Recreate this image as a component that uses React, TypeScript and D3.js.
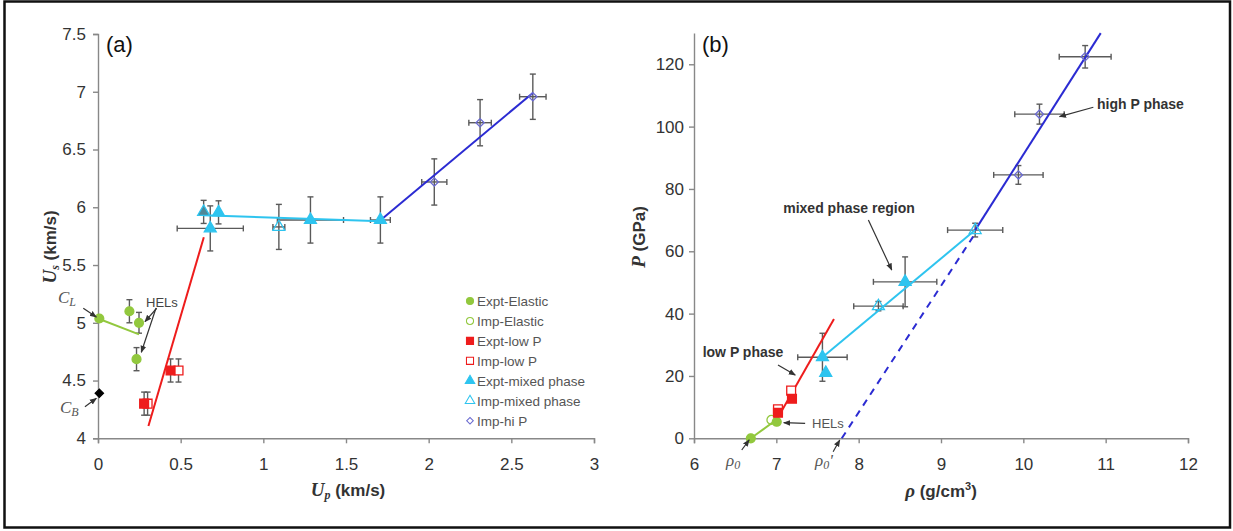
import React, { useEffect, useRef } from "react";
import * as d3 from "d3";

// ---- panel (a): Us vs Up ----
const aExptElastic = [
  { x: 0.008, y: 5.037 },
  { x: 0.19, y: 5.1, ey: 0.1 },
  { x: 0.248, y: 5.0, ey: 0.09 },
  { x: 0.233, y: 4.685, ey: 0.1 },
];
const aCB = [{ x: 0.008, y: 4.39 }];
const aExptLowP = [
  { x: 0.279, y: 4.3, ey: 0.1 },
  { x: 0.439, y: 4.587, ey: 0.1 },
];
const aImpLowP = [
  { x: 0.3, y: 4.3, ey: 0.1 },
  { x: 0.487, y: 4.587, ey: 0.1 },
];
const aExptMixed = [
  { x: 0.729, y: 5.956, ey: 0.1 },
  { x: 0.679, y: 5.817, ex: 0.2, ey: 0.195 },
  { x: 1.285, y: 5.89, ex: 0.2, ey: 0.2 },
  { x: 1.708, y: 5.89, ex: 0.06, ey: 0.2 },
];
const aImpMixed = [
  { x: 0.639, y: 5.96, ey: 0.1 },
  { x: 1.094, y: 5.83, ex: 0.036, ey: 0.195 },
];
const aImpHiP = [
  { x: 2.034, y: 6.219, ex: 0.076, ey: 0.2 },
  { x: 2.311, y: 6.732, ex: 0.068, ey: 0.2 },
  { x: 2.63, y: 6.957, ex: 0.08, ey: 0.196 },
];
const aFitElastic = [[0, 5.037], [0.248, 4.9]];
const aFitLowP = [[0.305, 4.107], [0.64, 5.74]];
const aFitMixed = [[0.637, 5.93], [1.712, 5.88]];
const aFitHiP = [[1.71, 5.89], [2.63, 6.99]];
const aTicksX = [0, 0.5, 1, 1.5, 2, 2.5, 3];
const aTicksY = [4, 4.5, 5, 5.5, 6, 6.5, 7, 7.5];
const legendItems = [
  "Expt-Elastic",
  "Imp-Elastic",
  "Expt-low P",
  "Imp-low P",
  "Expt-mixed phase",
  "Imp-mixed phase",
  "Imp-hi P",
];

// ---- panel (b): P vs rho ----
const bExptElastic = [
  { x: 6.69, y: 0 },
  { x: 7.005, y: 5.3 },
];
const bImpElastic = [{ x: 6.94, y: 5.9 }];
const bExptLowP = [
  { x: 7.02, y: 8.2 },
  { x: 7.19, y: 12.7 },
];
const bImpLowP = [
  { x: 7.02, y: 9.3 },
  { x: 7.18, y: 15.3 },
];
const bExptMixed = [
  { x: 7.56, y: 26, ex: 0.3, ey: 7.7 },
  { x: 7.6, y: 21 },
  { x: 8.564, y: 50.2, ex: 0.385, ey: 8 },
];
const bImpMixed = [
  { x: 8.24, y: 42.4, ex: 0.3, ey: 1.5 },
  { x: 9.415, y: 66.8, ex: 0.335, ey: 2.2 },
];
const bImpHiP = [
  { x: 9.94, y: 84.5, ex: 0.3, ey: 3 },
  { x: 10.196, y: 104, ex: 0.3, ey: 3.2 },
  { x: 10.751, y: 122.4, ex: 0.315, ey: 3.6 },
];
const bFitElastic = [[6.69, 0], [7.03, 6.5]];
const bFitLowP = [[6.98, 4.8], [7.7, 38.3]];
const bFitMixed = [[7.56, 26], [9.415, 66.8]];
const bFitHiP = [[9.415, 66.8], [10.94, 130]];
const bFitHiPExtrap = [[7.795, 0], [9.39, 64.7]];
const bTicksX = [6, 7, 8, 9, 10, 11, 12];
const bTicksY = [0, 20, 40, 60, 80, 100, 120];

const SANS = "Arial, 'Liberation Sans', sans-serif";
const SERIF = "'Times New Roman', 'Liberation Serif', serif";
const GREEN = "#92c83e";
const RED = "#ee1c1c";
const CYAN = "#2ec4ef";
const BLUE = "#2b2bd2";
const PURPLE = "#6b6bd0";
const ERR = "#5a5a5a";

const xA = d3.scaleLinear().domain([0, 3]).range([98, 594]);
const yA = d3.scaleLinear().domain([4, 7.5]).range([438.3, 34]);
const xB = d3.scaleLinear().domain([6, 12]).range([694, 1188]);
const yB = d3.scaleLinear().domain([0, 130]).range([438.3, 33.1]);

function Axis({ scale, orient, y0, x0, ticks, outer, pad }) {
  const ref = useRef(null);
  useEffect(() => {
    const ax = orient === "left" ? d3.axisLeft(scale) : d3.axisBottom(scale);
    ax.tickValues(ticks)
      .tickFormat((d) => String(d))
      .tickSize(5)
      .tickSizeOuter(outer)
      .tickPadding(pad);
    const g = d3.select(ref.current);
    g.call(ax);
    g.attr("font-family", SANS).attr("font-size", 17);
    g.select(".domain").attr("stroke", "#888").attr("stroke-width", 1.4);
    g.selectAll(".tick line").attr("stroke", "#888").attr("stroke-width", 1.4);
    g.selectAll(".tick text").attr("fill", "#333");
  }, []);
  const t = orient === "left" ? `translate(${x0},0)` : `translate(0,${y0})`;
  return <g ref={ref} transform={t} />;
}

function ErrorBars({ pts, x, y }) {
  return (
    <g stroke={ERR} strokeWidth={1.4} fill="none">
      {pts.map((p, i) => (
        <g key={i}>
          {p.ey ? (
            <>
              <line x1={x(p.x)} x2={x(p.x)} y1={y(p.y - p.ey)} y2={y(p.y + p.ey)} />
              <line x1={x(p.x) - 3} x2={x(p.x) + 3} y1={y(p.y - p.ey)} y2={y(p.y - p.ey)} />
              <line x1={x(p.x) - 3} x2={x(p.x) + 3} y1={y(p.y + p.ey)} y2={y(p.y + p.ey)} />
            </>
          ) : null}
          {p.ex ? (
            <>
              <line x1={x(p.x - p.ex)} x2={x(p.x + p.ex)} y1={y(p.y)} y2={y(p.y)} />
              <line x1={x(p.x - p.ex)} x2={x(p.x - p.ex)} y1={y(p.y) - 3} y2={y(p.y) + 3} />
              <line x1={x(p.x + p.ex)} x2={x(p.x + p.ex)} y1={y(p.y) - 3} y2={y(p.y) + 3} />
            </>
          ) : null}
        </g>
      ))}
    </g>
  );
}

const SYM = {
  circle: { d: d3.symbol(d3.symbolCircle, 62)(), rot: 0 },
  square: { d: d3.symbol(d3.symbolSquare, 78)(), rot: 0 },
  triangle: { d: d3.symbol(d3.symbolTriangle, 62)(), rot: 0 },
  diamond: { d: d3.symbol(d3.symbolSquare, 34)(), rot: 45 },
};

function Marks({ pts, x, y, shape, fill, stroke, sw = 1.3 }) {
  return (
    <g>
      {pts.map((p, i) => (
        <path
          key={i}
          d={SYM[shape].d}
          transform={`translate(${x(p.x)},${y(p.y)}) rotate(${SYM[shape].rot})`}
          fill={fill}
          stroke={stroke}
          strokeWidth={sw}
        />
      ))}
    </g>
  );
}

function Fit({ pts, x, y, color, dash }) {
  const line = d3.line().x((d) => x(d[0])).y((d) => y(d[1]));
  return <path d={line(pts)} fill="none" stroke={color} strokeWidth={2} strokeDasharray={dash} />;
}

function Arrow({ from, to, x, y }) {
  return (
    <line
      x1={x(from[0])}
      y1={y(from[1])}
      x2={x(to[0])}
      y2={y(to[1])}
      stroke="#333"
      strokeWidth={1.2}
      markerEnd="url(#arrow)"
    />
  );
}

const legendMarks = [
  { shape: "circle", fill: GREEN, stroke: GREEN },
  { shape: "circle", fill: "none", stroke: GREEN },
  { shape: "square", fill: RED, stroke: RED },
  { shape: "square", fill: "none", stroke: RED },
  { shape: "triangle", fill: CYAN, stroke: CYAN },
  { shape: "triangle", fill: "none", stroke: CYAN },
  { shape: "diamond", fill: "none", stroke: PURPLE },
];

export default function App() {
  return (
    <svg
      width={1233}
      height={531}
      style={{ position: "absolute", left: 0, top: 0, background: "#fff" }}
    >
      <defs>
        <marker id="arrow" viewBox="0 0 10 10" refX="9" refY="5" markerWidth="6" markerHeight="6" orient="auto">
          <path d="M0,1 L10,5 L0,9 z" fill="#333" />
        </marker>
      </defs>
      <rect x={4.5} y={1.5} width={1225.5} height={526} fill="#fff" stroke="#111" strokeWidth={2.5} />

      {/* panel (a) */}
      <Axis scale={yA} orient="left" x0={98} ticks={aTicksY} outer={5} pad={7} />
      <Axis scale={xA} orient="bottom" y0={438.3} ticks={aTicksX} outer={5} pad={15} />
      <ErrorBars pts={[...aExptElastic, ...aExptLowP, ...aImpLowP, ...aExptMixed, ...aImpMixed, ...aImpHiP]} x={xA} y={yA} />
      <Fit pts={aFitElastic} x={xA} y={yA} color={GREEN} />
      <Fit pts={aFitLowP} x={xA} y={yA} color={RED} />
      <Fit pts={aFitMixed} x={xA} y={yA} color={CYAN} />
      <Fit pts={aFitHiP} x={xA} y={yA} color={BLUE} />
      <Marks pts={aExptElastic} x={xA} y={yA} shape="circle" fill={GREEN} stroke={GREEN} />
      <Marks pts={aCB} x={xA} y={yA} shape="diamond" fill="#000" stroke="#000" />
      <Marks pts={aImpLowP} x={xA} y={yA} shape="square" fill="#fff" stroke={RED} />
      <Marks pts={aExptLowP} x={xA} y={yA} shape="square" fill={RED} stroke={RED} />
      <Marks pts={aImpMixed.slice(0, 1)} x={xA} y={yA} shape="triangle" fill="#4f8797" stroke={CYAN} />
      <Marks pts={aImpMixed.slice(1)} x={xA} y={yA} shape="triangle" fill="none" stroke={CYAN} />
      <Marks pts={aExptMixed} x={xA} y={yA} shape="triangle" fill={CYAN} stroke={CYAN} />
      <Marks pts={aImpHiP} x={xA} y={yA} shape="diamond" fill="none" stroke={PURPLE} />

      <Arrow from={[-0.089, 5.126]} to={[-0.01, 5.05]} x={xA} y={yA} />
      <Arrow from={[-0.079, 4.274]} to={[-0.01, 4.346]} x={xA} y={yA} />
      <Arrow from={[0.355, 5.126]} to={[0.284, 5.01]} x={xA} y={yA} />
      <Arrow from={[0.351, 5.128]} to={[0.262, 4.745]} x={xA} y={yA} />
      <text x={58} y={303} fontFamily={SERIF} fontStyle="italic" fontSize={17} fill="#555">
        C<tspan fontSize={12} dy={3}>L</tspan>
      </text>
      <text x={60} y={413} fontFamily={SERIF} fontStyle="italic" fontSize={17} fill="#555">
        C<tspan fontSize={12} dy={3}>B</tspan>
      </text>
      <text x={146} y={307} fontFamily={SANS} fontSize={13} fill="#444">HELs</text>

      {legendItems.map((name, i) => (
        <g key={name} transform={`translate(470,${301 + i * 19.95})`}>
          <path
            d={SYM[legendMarks[i].shape].d}
            fill={legendMarks[i].fill}
            stroke={legendMarks[i].stroke}
            strokeWidth={1.3}
            transform={`scale(0.8) rotate(${SYM[legendMarks[i].shape].rot})`}
          />
          <text x={7} y={5} fontFamily={SANS} fontSize={13.5} fill="#555">{name}</text>
        </g>
      ))}

      <text x={106} y={52} fontFamily={SANS} fontSize={22} fill="#111">(a)</text>
      <text x={348} y={496} textAnchor="middle" fontFamily={SANS} fontSize={17} fontWeight="bold" fill="#333">
        <tspan fontFamily={SERIF} fontStyle="italic" fontSize={19}>U</tspan>
        <tspan fontFamily={SERIF} fontStyle="italic" fontSize={12} dy={3}>p</tspan>
        <tspan dy={-3}> (km/s)</tspan>
      </text>
      <text transform="translate(56,247) rotate(-90)" textAnchor="middle" fontFamily={SANS} fontSize={17} fontWeight="bold" fill="#333">
        <tspan fontFamily={SERIF} fontStyle="italic" fontSize={19}>U</tspan>
        <tspan fontFamily={SERIF} fontStyle="italic" fontSize={12} dy={3}>s</tspan>
        <tspan dy={-3}> (km/s)</tspan>
      </text>

      {/* panel (b) */}
      <Axis scale={yB} orient="left" x0={694} ticks={bTicksY} outer={0} pad={5} />
      <Axis scale={xB} orient="bottom" y0={438.3} ticks={bTicksX} outer={5} pad={15} />
      <ErrorBars pts={[...bExptMixed, ...bImpMixed, ...bImpHiP]} x={xB} y={yB} />
      <Fit pts={bFitElastic} x={xB} y={yB} color={GREEN} />
      <Fit pts={bFitLowP} x={xB} y={yB} color={RED} />
      <Fit pts={bFitMixed} x={xB} y={yB} color={CYAN} />
      <Fit pts={bFitHiP} x={xB} y={yB} color={BLUE} />
      <Fit pts={bFitHiPExtrap} x={xB} y={yB} color={BLUE} dash="7,6" />
      <Marks pts={bImpElastic} x={xB} y={yB} shape="circle" fill="none" stroke={GREEN} />
      <Marks pts={bExptElastic} x={xB} y={yB} shape="circle" fill={GREEN} stroke={GREEN} />
      <Marks pts={bImpLowP} x={xB} y={yB} shape="square" fill="#fff" stroke={RED} />
      <Marks pts={bExptLowP} x={xB} y={yB} shape="square" fill={RED} stroke={RED} />
      <Marks pts={bImpMixed} x={xB} y={yB} shape="triangle" fill="none" stroke={CYAN} />
      <Marks pts={bExptMixed} x={xB} y={yB} shape="triangle" fill={CYAN} stroke={CYAN} />
      <Marks pts={bImpHiP} x={xB} y={yB} shape="diamond" fill="none" stroke={PURPLE} />

      <Arrow from={[6.58, -3.75]} to={[6.67, -0.5]} x={xB} y={yB} />
      <Arrow from={[7.69, -4.3]} to={[7.77, -0.55]} x={xB} y={yB} />
      <Arrow from={[7.35, 4.8]} to={[7.09, 5.0]} x={xB} y={yB} />
      <Arrow from={[7.02, 23.5]} to={[7.23, 20.3]} x={xB} y={yB} />
      <Arrow from={[8.118, 70]} to={[8.402, 54]} x={xB} y={yB} />
      <Arrow from={[10.85, 106.2]} to={[10.44, 103.2]} x={xB} y={yB} />

      <text x={849} y={213} textAnchor="middle" fontFamily={SANS} fontSize={14} fontWeight="bold" fill="#333">mixed phase region</text>
      <text x={1097} y={109} fontFamily={SANS} fontSize={14} fontWeight="bold" fill="#333">high P phase</text>
      <text x={743} y={357} textAnchor="middle" fontFamily={SANS} fontSize={14} fontWeight="bold" fill="#333">low P phase</text>
      <text x={812} y={428} fontFamily={SANS} fontSize={13} fill="#555">HELs</text>
      <text x={726} y={466} fontFamily={SERIF} fontStyle="italic" fontSize={17} fill="#555">
        ρ<tspan fontSize={12} dy={3}>0</tspan>
      </text>
      <text x={815} y={466} fontFamily={SERIF} fontStyle="italic" fontSize={17} fill="#555">
        ρ<tspan fontSize={12} dy={3}>0</tspan><tspan dy={-3}>'</tspan>
      </text>

      <text x={702} y={52} fontFamily={SANS} fontSize={22} fill="#111">(b)</text>
      <text x={941} y={497} textAnchor="middle" fontFamily={SANS} fontSize={17} fontWeight="bold" fill="#333">
        <tspan fontFamily={SERIF} fontStyle="italic" fontSize={19}>ρ</tspan>
        <tspan> (g/cm</tspan>
        <tspan fontSize={11} dy={-7}>3</tspan>
        <tspan dy={7}>)</tspan>
      </text>
      <text transform="translate(645,237) rotate(-90)" textAnchor="middle" fontFamily={SANS} fontSize={17} fontWeight="bold" fill="#333">
        <tspan fontFamily={SERIF} fontStyle="italic" fontSize={19}>P</tspan>
        <tspan> (GPa)</tspan>
      </text>
    </svg>
  );
}
